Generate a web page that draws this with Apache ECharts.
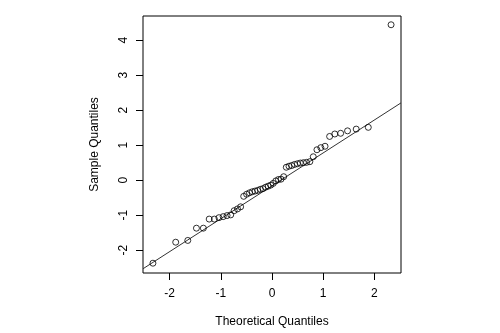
<!DOCTYPE html>
<html>
<head>
<meta charset="utf-8">
<script src="https://cdn.jsdelivr.net/npm/echarts@6/dist/echarts.min.js"></script>
<style>
html,body{margin:0;padding:0;background:#fff;}
#chart{width:500px;height:333px;}
</style>
</head>
<body>
<div id="chart"></div>
<script>
// Theoretical quantiles (x) and sorted sample quantiles (y)
var theoretical = [-2.326,-1.881,-1.645,-1.476,-1.341,-1.227,-1.126,-1.036,-0.954,-0.878,
  -0.806,-0.739,-0.674,-0.613,-0.553,-0.496,-0.440,-0.385,-0.332,-0.279,
  -0.228,-0.176,-0.126,-0.075,-0.025,0.025,0.075,0.126,0.176,0.228,
  0.279,0.332,0.385,0.440,0.496,0.553,0.613,0.674,0.739,0.806,
  0.878,0.954,1.036,1.126,1.227,1.341,1.476,1.645,1.881,2.326];
var sample = [-2.37,-1.77,-1.72,-1.37,-1.37,-1.11,-1.11,-1.07,-1.04,-1.01,
  -0.99,-0.87,-0.82,-0.76,-0.46,-0.40,-0.36,-0.33,-0.31,-0.29,
  -0.26,-0.24,-0.20,-0.17,-0.14,-0.09,-0.02,0.02,0.03,0.10,
  0.37,0.40,0.42,0.45,0.47,0.49,0.50,0.51,0.53,0.67,
  0.87,0.93,0.97,1.25,1.32,1.34,1.41,1.46,1.51,4.44];
var xTicks = [-2,-1,0,1,2];
var yTicks = [-2,-1,0,1,2,3,4];
var xRange = [-2.52, 2.52];
var yRange = [-2.65, 4.69];
var lineIntercept = -0.16;
var lineSlope = 0.94;

var points = theoretical.map(function(x,i){ return [x, sample[i]]; });
var linePts = xRange.map(function(x){ return [x, lineIntercept + lineSlope*x]; });

var font = 'Liberation Sans, Arial, Helvetica, sans-serif';
var chart = echarts.init(document.getElementById('chart'), null, {renderer:'canvas'});
chart.setOption({
  animation:false,
  backgroundColor:'#fff',
  grid:{left:143, top:16, width:258, height:257, show:true, borderColor:'#000', borderWidth:1, backgroundColor:'transparent'},
  xAxis:{
    type:'value', min:xRange[0], max:xRange[1], position:'bottom',
    name:'Theoretical Quantiles', nameLocation:'middle', nameGap:43,
    nameTextStyle:{fontFamily:font, fontSize:12, color:'#000', verticalAlign:'top'},
    axisLine:{show:false, onZero:false},
    splitLine:{show:false},
    axisTick:{show:true, inside:false, length:7, lineStyle:{color:'#000'}, customValues:xTicks},
    axisLabel:{fontFamily:font, fontSize:12, color:'#000', margin:15, customValues:xTicks, formatter:function(v){return String(v);}}
  },
  yAxis:{
    type:'value', min:yRange[0], max:yRange[1], position:'left',
    name:'Sample Quantiles', nameLocation:'middle', nameGap:42, nameRotate:90,
    nameTextStyle:{fontFamily:font, fontSize:12, color:'#000'},
    axisLine:{show:false, onZero:false},
    splitLine:{show:false},
    axisTick:{show:true, inside:false, length:7, lineStyle:{color:'#000'}, customValues:yTicks},
    axisLabel:{fontFamily:font, fontSize:12, color:'#000', margin:13, rotate:90, customValues:yTicks, formatter:function(v){return String(v);}}
  },
  series:[
    {type:'line', data:linePts, symbol:'none', silent:true, clip:true,
      lineStyle:{color:'#333', width:1}, z:1},
    {type:'scatter', data:points, symbol:'circle', symbolSize:6,
      itemStyle:{color:'rgba(0,0,0,0)', borderColor:'#000', borderWidth:1}, z:2}
  ]
});
</script>
</body>
</html>
